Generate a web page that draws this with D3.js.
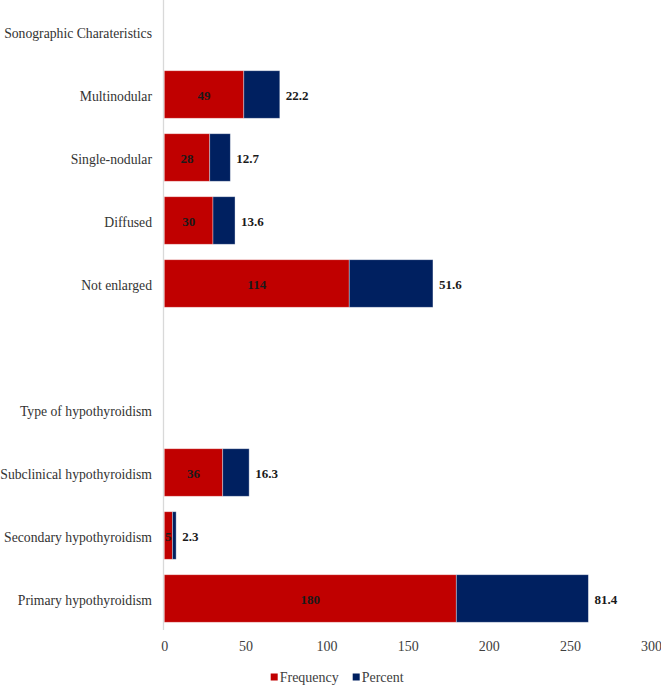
<!DOCTYPE html>
<html>
<head>
<meta charset="utf-8">
<script src="https://cdn.jsdelivr.net/npm/d3@7"></script>
<style>
  html, body { margin: 0; padding: 0; background: #fff; }
  svg text { font-family: "Liberation Serif", "Times New Roman", Times, serif; }
</style>
</head>
<body>
<svg id="chart" width="661" height="685"></svg>
<script>
// Rows top to bottom (blank entries are spacer rows / group headers without bars)
const categories = [
  "Sonographic Charateristics",
  "Multinodular",
  "Single-nodular",
  "Diffused",
  "Not enlarged",
  "",
  "Type of hypothyroidism",
  "Subclinical hypothyroidism",
  "Secondary hypothyroidism",
  "Primary hypothyroidism"
];
const frequency = [null, 49, 28, 30, 114, null, null, 36, 5, 180];
const percent   = [null, 22.2, 12.7, 13.6, 51.6, null, null, 16.3, 2.3, 81.4];
const xTicks = [0, 50, 100, 150, 200, 250, 300];
const seriesNames = ["Frequency", "Percent"];
const seriesColors = ["#C00000", "#002060"];

const FONT = "'Liberation Serif', 'Times New Roman', Times, serif";
const svg = d3.select("#chart");

const x = d3.scaleLinear().domain([0, 300]).range([164.3, 651]);
const y = d3.scaleBand()
  .domain(d3.range(categories.length))
  .range([0, 630])
  .paddingInner(0.245)
  .paddingOuter(0.1225);

const rows = categories.map((c, i) => ({ i, c, Frequency: frequency[i], Percent: percent[i] }));
const barRows = rows.filter(r => r.Frequency != null);
const stack = d3.stack().keys(seriesNames)(barRows);

// vertical axis line
svg.append("line")
  .attr("x1", x(0) - 0.8).attr("x2", x(0) - 0.8)
  .attr("y1", 0).attr("y2", 630)
  .attr("stroke", "#d9d9d9").attr("stroke-width", 1.3);

// bars
stack.forEach((layer, k) => {
  svg.append("g").selectAll("rect")
    .data(layer)
    .join("rect")
    .attr("x", d => x(d[0]))
    .attr("width", d => x(d[1]) - x(d[0]))
    .attr("y", d => y(d.data.i))
    .attr("height", y.bandwidth())
    .attr("fill", seriesColors[k])
    .attr("stroke", "rgba(255,255,255,0.45)")
    .attr("stroke-width", 0.8);
});

// frequency labels (centered in red segment)
svg.append("g").selectAll("text")
  .data(stack[0])
  .join("text")
  .attr("x", d => (x(d[0]) + x(d[1])) / 2)
  .attr("y", d => y(d.data.i) + y.bandwidth() / 2)
  .attr("dy", "0.4em")
  .attr("text-anchor", "middle")
  .attr("font-family", FONT)
  .attr("font-size", 13)
  .attr("font-weight", "bold")
  .attr("fill", "#1a1a1a")
  .text(d => d.data.Frequency);

// percent labels (outside end)
svg.append("g").selectAll("text")
  .data(stack[1])
  .join("text")
  .attr("x", d => x(d[1]) + 6)
  .attr("y", d => y(d.data.i) + y.bandwidth() / 2)
  .attr("dy", "0.4em")
  .attr("text-anchor", "start")
  .attr("font-family", FONT)
  .attr("font-size", 13)
  .attr("font-weight", "bold")
  .attr("fill", "#1a1a1a")
  .text(d => d.data.Percent);

// category labels
svg.append("g").selectAll("text")
  .data(rows)
  .join("text")
  .attr("x", 152)
  .attr("y", d => y(d.i) + y.bandwidth() / 2)
  .attr("dy", "0.45em")
  .attr("text-anchor", "end")
  .attr("font-family", FONT)
  .attr("font-size", 13.7)
  .attr("fill", "#333333")
  .text(d => d.c);

// x axis tick labels
const xAxis = d3.axisBottom(x).tickValues(xTicks).tickSize(0).tickPadding(0);
const gx = svg.append("g").attr("transform", "translate(0,641)").call(xAxis)
  .attr("font-family", FONT);
gx.select(".domain").remove();
gx.selectAll("text")
  .attr("font-family", FONT)
  .attr("font-size", 14)
  .attr("fill", "#404040")
  .attr("dy", "0.71em");

// legend
const legendX = [270.7, 352.7];
const lg = svg.append("g").selectAll("g")
  .data(seriesNames)
  .join("g")
  .attr("transform", (d, i) => `translate(${legendX[i]},677)`);
lg.append("rect")
  .attr("x", 0).attr("y", -3.5)
  .attr("width", 7).attr("height", 7)
  .attr("fill", (d, i) => seriesColors[i]);
lg.append("text")
  .attr("x", 9)
  .attr("dy", "0.38em")
  .attr("font-family", FONT)
  .attr("font-size", 14)
  .attr("fill", "#404040")
  .text(d => d);
</script>
</body>
</html>
